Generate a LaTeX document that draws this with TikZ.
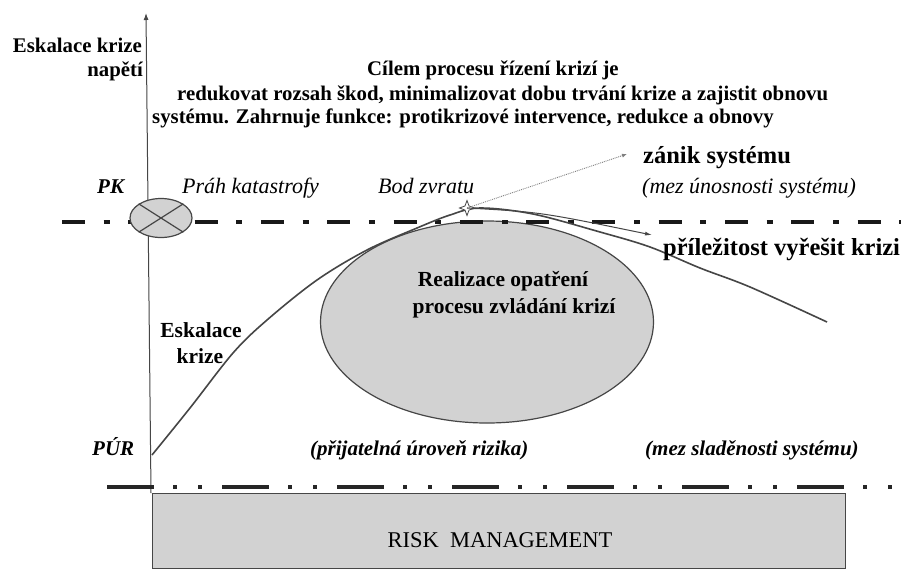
\documentclass[tikz,border=0pt]{standalone}
\usepackage{fontspec}
\setmainfont{Liberation Serif}
\usetikzlibrary{arrows.meta,shapes.geometric}
\definecolor{linegray}{RGB}{70,70,70}
\definecolor{fillgray}{RGB}{210,210,210}
\begin{document}
\begin{tikzpicture}[x=1pt,y=-1pt,
  txt/.style={inner sep=0pt, anchor=base west},
  bt/.style={txt, font=\bfseries\fontsize{20.8}{24}\selectfont},
  bigt/.style={txt, font=\bfseries\fontsize{24.5}{28}\selectfont},
  it/.style={txt, font=\itshape\fontsize{22}{25}\selectfont},
  bit/.style={txt, font=\bfseries\itshape\fontsize{21}{24}\selectfont},
  ctr/.style={inner sep=0pt, anchor=base, font=\bfseries\fontsize{21.5}{24}\selectfont}]
\useasboundingbox (0,0) rectangle (901,571);
\fill[white] (0,0) rectangle (901,571);
% risk management box
\node[draw=linegray, fill=fillgray, line width=1.2pt, minimum width=693pt, minimum height=75pt, anchor=north west, inner sep=0pt] (rm) at (152,493) {};
\node[inner sep=0pt, anchor=base, font=\fontsize{22.5}{26}\selectfont] (rmt) at (500,547) {RISK\ \ MANAGEMENT};
% axis
\coordinate (axb) at (151,493);
\coordinate (axt) at (146,13);
\draw[-{Latex[length=7pt,width=5pt]}, line width=1pt, linegray] (axb) -- (axt);
% ellipse
\node[ellipse, draw=linegray, fill=fillgray, line width=1.2pt, minimum width=333pt, minimum height=202pt, inner sep=0pt] (el) at (487,322) {};
% threshold lines
\coordinate (t1) at (62,222); \coordinate (t2) at (901,222);
\draw[line width=4.5pt, black!90, dash pattern=on 23pt off 18.7pt on 6pt off 18.6pt] (t1) -- (t2);
\coordinate (b1) at (107,487); \coordinate (b2) at (901,487);
\draw[line width=4pt, black!85, dash pattern=on 47pt off 19pt on 4pt off 21pt on 4pt off 20pt] (b1) -- (b2);
% catastrophe marker
\node[ellipse, draw=linegray, fill=fillgray, line width=1.2pt, minimum width=62pt, minimum height=39pt, inner sep=0pt] (pk) at (161,218) {};
\draw[linegray, line width=1.2pt] (pk.north west) -- (pk.south east) (pk.north east) -- (pk.south west);
% escalation curve
\draw[line width=1.6pt, linegray] plot[smooth, tension=0.55] coordinates {(152,455) (190,408) (233,353) (267,320) (317,280) (367,250) (417,228) (450,215) (480,208) (533,214) (600,232) (650,247) (700,268) (750,287) (827,322)};
% turning point
\node[star, star points=4, star point ratio=2.6, minimum size=15pt, inner sep=0pt, draw=linegray, fill=white, line width=0.8pt] (bz) at (467,208) {};
\coordinate (zt) at (627,154);
\coordinate (pt) at (652,235);
\draw[gray, densely dotted, line width=0.9pt, -{Latex[length=5pt,width=4pt]}] (bz.center) -- (zt);
\draw[linegray, line width=1pt, -{Latex[length=7pt,width=4pt]}] (bz.center) .. controls (540,212) .. (pt);
% texts
\node[txt, anchor=base east, font=\bfseries\fontsize{20.8}{24}\selectfont] (ek) at (142,52) {Eskalace krize};
\node[txt, anchor=base east, font=\bfseries\fontsize{20.8}{24}\selectfont] (np) at (143,76) {napětí};
\node[bt] (l1) at (367,75) {Cílem procesu řízení krizí je};
\node[bt] (l2) at (177,100) {redukovat rozsah škod, minimalizovat dobu trvání krize a zajistit obnovu};
\node[bt] (l3) at (152,123) {systému. Zahrnuje funkce: protikrizové intervence, redukce a obnovy};
\node[bigt] (zs) at (643,163) {zánik systému};
\node[it] (mu) at (642,193) {(mez únosnosti systému)};
\node[bit] (pkl) at (97,193) {PK};
\node[it] (pkt) at (182,193) {Práh katastrofy};
\node[it] (bzl) at (378,193) {Bod zvratu};
\node[bigt] (pr) at (663,255) {příležitost vyřešit krizi};
\node[ctr] (ek1) at (201,337) {Eskalace};
\node[ctr] (ek2) at (200,363) {krize};
\node[ctr] (re1) at (503,286) {Realizace opatření};
\node[ctr] (re2) at (514,313) {procesu zvládání krizí};
\node[bit] (pur) at (92,455) {PÚR};
\node[bit] (pu) at (310,455) {(přijatelná úroveň rizika)};
\node[bit] (ms) at (645,455) {(mez sladěnosti systému)};
\end{tikzpicture}
\end{document}
